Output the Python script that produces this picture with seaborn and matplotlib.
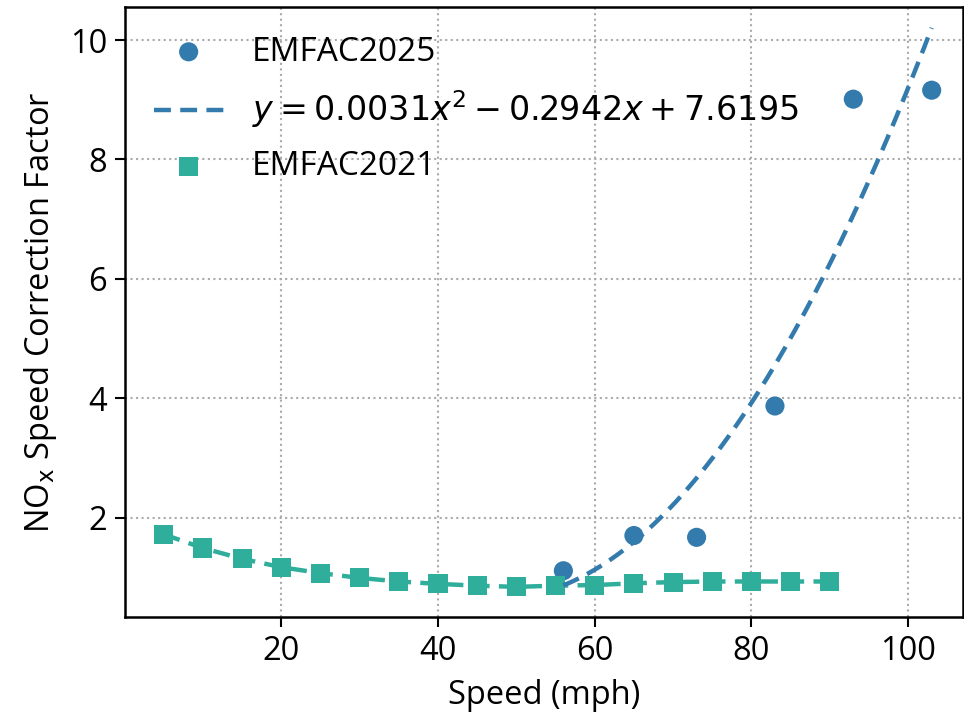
import numpy as np
import pandas as pd
import seaborn as sns
import matplotlib
matplotlib.use("Agg")
import matplotlib.pyplot as plt

# ---- data ----
speed_2025 = [56, 65, 73, 83, 93, 103]
scf_2025 = [1.11, 1.70, 1.67, 3.87, 9.01, 9.16]

speed_2021 = [5, 10, 15, 20, 25, 30, 35, 40, 45, 50, 55, 60, 65, 70, 75, 80, 85, 90]
scf_2021 = [1.72, 1.49, 1.31, 1.17, 1.07, 0.99, 0.93, 0.89, 0.86, 0.84,
            0.86, 0.87, 0.90, 0.92, 0.93, 0.93, 0.93, 0.93]

fit_coefs = [0.0031, -0.2942, 7.6195]   # a, b, c of y = a x^2 + b x + c
fit_label = r"$y = 0.0031x^2 - 0.2942x + 7.6195$"

x_ticks = [20, 40, 60, 80, 100]
y_ticks = [2, 4, 6, 8, 10]

blue = "#347bad"
teal = "#2eae9b"

sns.set_theme(style="ticks")
plt.rcParams["font.family"] = ["Open Sans", "DejaVu Sans"]
plt.rcParams["mathtext.fontset"] = "dejavusans"
plt.rcParams["text.color"] = "black"
plt.rcParams["axes.labelcolor"] = "black"
plt.rcParams["xtick.color"] = "black"
plt.rcParams["ytick.color"] = "black"

FS = 23.5
LFS = 24
DASH = (3.8, 2.1)

fig = plt.figure(figsize=(9.64, 7.23), dpi=100)
ax = fig.add_axes([0.130, 0.147, 0.869, 0.843])

df25 = pd.DataFrame({"x": speed_2025, "y": scf_2025})
df21 = pd.DataFrame({"x": speed_2021, "y": scf_2021})

xf = np.linspace(min(speed_2025), max(speed_2025), 200)
yf = np.polyval(fit_coefs, xf)
dffit = pd.DataFrame({"x": xf, "y": yf})

sns.scatterplot(data=df25, x="x", y="y", ax=ax, color=blue, s=190,
                marker="o", edgecolor="none", label="EMFAC2025", zorder=3)
sns.lineplot(data=dffit, x="x", y="y", ax=ax, color=blue, lw=3.2,
             dashes=DASH, label=fit_label, zorder=4)
sns.lineplot(data=df21, x="x", y="y", ax=ax, color=teal, lw=3.2,
             dashes=DASH, zorder=2, legend=False)
sns.scatterplot(data=df21, x="x", y="y", ax=ax, color=teal, s=190,
                marker="s", edgecolor="none", label="EMFAC2021", zorder=3)

ax.set_xlim(0.1, 107.0)
ax.set_ylim(0.34, 10.55)
ax.set_xticks(x_ticks)
ax.set_yticks(y_ticks)
ax.tick_params(axis="both", labelsize=FS, length=7, width=1.5, color="black",
               labelcolor="black", direction="out", pad=6)
ax.set_xlabel("Speed (mph)", fontsize=FS, labelpad=8, color="black")
ax.set_ylabel(r"NO$_\mathrm{x}$ Speed Correction Factor", fontsize=FS,
              labelpad=8, color="black")

ax.grid(True, linestyle=":", color="#aaaaaa", lw=1.5)
for sp in ax.spines.values():
    sp.set_visible(True)
    sp.set_color("black")
    sp.set_linewidth(1.8)

leg = ax.legend(loc="upper left", frameon=False, fontsize=LFS,
                handlelength=2.1, handletextpad=0.85, labelspacing=0.6,
                borderaxespad=0.45, markerscale=1.0)
for t in leg.get_texts():
    t.set_color("black")

fig.savefig("out.png", dpi=100)
